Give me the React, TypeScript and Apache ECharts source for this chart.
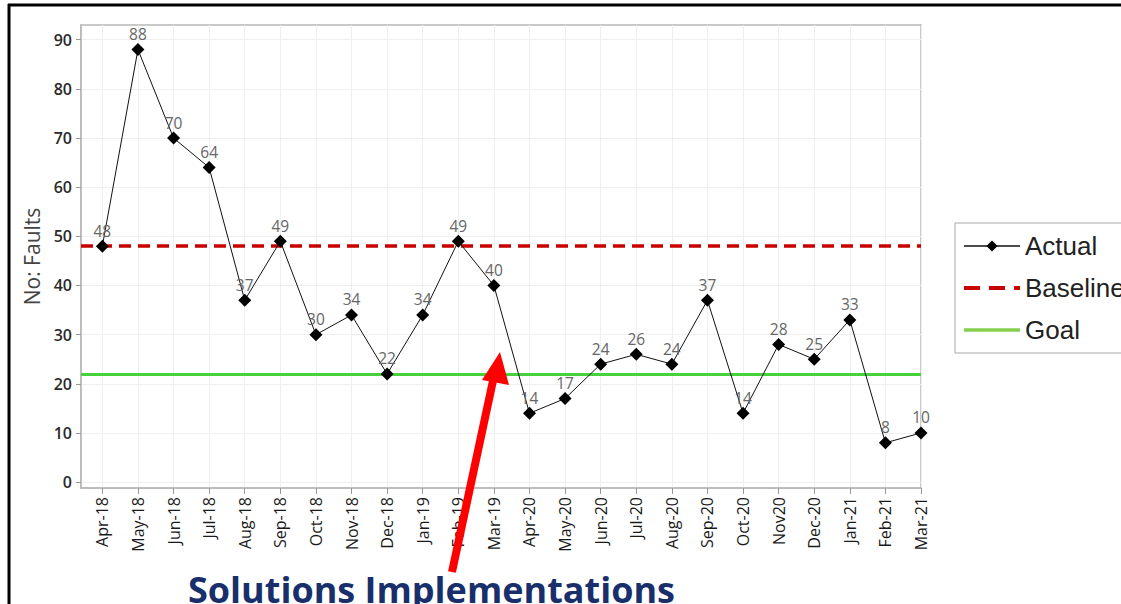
import React, { useEffect, useRef } from 'react';
import * as echarts from 'echarts';

// Monthly fault counts
const categories = [
  'Apr-18', 'May-18', 'Jun-18', 'Jul-18', 'Aug-18', 'Sep-18', 'Oct-18', 'Nov-18',
  'Dec-18', 'Jan-19', 'Feb-19', 'Mar-19', 'Apr-20', 'May-20', 'Jun-20', 'Jul-20',
  'Aug-20', 'Sep-20', 'Oct-20', 'Nov20', 'Dec-20', 'Jan-21', 'Feb-21', 'Mar-21',
];
const actual = [48, 88, 70, 64, 37, 49, 30, 34, 22, 34, 49, 40, 14, 17, 24, 26, 24, 37, 14, 28, 25, 33, 8, 10];
const baseline = 48;
const goal = 22;
const yTicks = [0, 10, 20, 30, 40, 50, 60, 70, 80, 90];

const AXIS_GRAY = '#b8b8b8';
const GRID_GRAY = '#efefef';
const RED = '#c80000';
const GREEN = '#46d23a';
const LEGEND_GREEN = '#84d04c';

export default function App() {
  const ref = useRef<HTMLDivElement>(null);

  useEffect(() => {
    const chart = echarts.init(ref.current!, null, { renderer: 'svg' });
    const idx = categories.map((_, i) => i);

    chart.setOption({
      animation: false,
      backgroundColor: '#ffffff',
      grid: {
        left: 81, right: 200, top: 25, bottom: 116,
        show: true, borderColor: AXIS_GRAY, borderWidth: 1.5,
      },
      xAxis: {
        type: 'value',
        min: -0.6,
        max: categories.length - 1,
        axisLine: { show: true, onZero: false, lineStyle: { color: AXIS_GRAY, width: 1.5 } },
        axisTick: { show: true, customValues: idx, length: 6, lineStyle: { color: '#999' } },
        axisLabel: {
          customValues: idx,
          rotate: 90,
          margin: 9,
          fontSize: 16,
          fontFamily: 'Open Sans',
          color: '#1a1a1a',
          formatter: (v: number) => categories[Math.round(v)] ?? '',
        },
        splitLine: { show: true, lineStyle: { color: GRID_GRAY, width: 1 } },
      },
      yAxis: {
        type: 'value',
        min: -1.2,
        max: 93,
        name: 'No: Faults',
        nameLocation: 'middle',
        nameGap: 38,
        nameRotate: 90,
        nameTextStyle: { fontSize: 21, color: '#444', fontFamily: 'Open Sans' },
        axisLine: { show: true, onZero: false, lineStyle: { color: AXIS_GRAY, width: 1.5 } },
        axisTick: { show: true, customValues: yTicks, length: 5, lineStyle: { color: '#999' } },
        axisLabel: {
          customValues: yTicks,
          margin: 9,
          fontSize: 16,
          fontWeight: 600,
          fontFamily: 'Open Sans',
          color: '#2a2a2a',
        },
        splitLine: { show: true, lineStyle: { color: GRID_GRAY, width: 1 } },
      },
      legend: {
        data: [
          { name: 'Actual', lineStyle: { width: 1.5 } },
          { name: 'Baseline', itemStyle: { opacity: 0 }, lineStyle: { width: 4 } },
          { name: 'Goal', itemStyle: { opacity: 0 }, lineStyle: { width: 3.5, color: LEGEND_GREEN } },
        ],
        orient: 'vertical',
        left: 955,
        top: 223,
        itemWidth: 56,
        itemHeight: 14,
        itemGap: 14,
        padding: [9, 60, 9, 7],
        borderColor: '#a8a8a8',
        borderWidth: 1,
        backgroundColor: '#fff',
        textStyle: { fontSize: 26, lineHeight: 28, fontFamily: 'Liberation Sans', color: '#222' },
      },
      series: [
        {
          name: 'Baseline',
          type: 'line',
          data: [],
          symbol: 'none',
          itemStyle: { color: RED },
          lineStyle: { color: RED, width: 4, type: [16, 9] },
          markLine: {
            silent: true,
            symbol: 'none',
            label: { show: false },
            lineStyle: { color: RED, width: 3.5, type: [12, 7] },
            data: [{ yAxis: baseline }],
          },
        },
        {
          name: 'Goal',
          type: 'line',
          data: [],
          symbol: 'none',
          itemStyle: { color: GREEN },
          lineStyle: { color: LEGEND_GREEN, width: 3.5 },
          markLine: {
            silent: true,
            symbol: 'none',
            label: { show: false },
            lineStyle: { color: GREEN, width: 3, type: 'solid' },
            data: [{ yAxis: goal }],
          },
        },
        {
          name: 'Actual',
          type: 'line',
          z: 5,
          data: actual.map((v, i) => [i, v]),
          symbol: 'diamond',
          symbolSize: 13,
          itemStyle: { color: '#000' },
          lineStyle: { color: '#111', width: 1 },
          label: {
            show: true,
            position: 'top',
            distance: 1,
            fontSize: 15.5,
            fontFamily: 'Open Sans',
            color: '#666',
            formatter: (p: any) => String(p.value[1]),
          },
        },
      ],
      graphic: [
        { type: 'line', z: 100, shape: { x1: 9, y1: 4, x2: 9, y2: 604 }, style: { stroke: '#000', lineWidth: 3 } },
        { type: 'line', z: 100, shape: { x1: 8, y1: 5, x2: 1121, y2: 5 }, style: { stroke: '#000', lineWidth: 3 } },
        {
          type: 'text', z: 100, left: 188, top: 571,
          style: {
            text: 'Solutions Implementations',
            fontSize: 36, fontWeight: 'bold', fontFamily: 'Open Sans', fill: '#182f6c',
          },
        },
        { type: 'line', z: 100, shape: { x1: 452, y1: 572, x2: 494, y2: 376 }, style: { stroke: '#ff0000', lineWidth: 8 } },
        { type: 'polygon', z: 100, shape: { points: [[500, 352], [482, 380], [509, 385]] }, style: { fill: '#ff0000' } },
      ],
    });

    return () => chart.dispose();
  }, []);

  return <div ref={ref} style={{ position: 'absolute', left: 0, top: 0, width: 1121, height: 604 }} />;
}
